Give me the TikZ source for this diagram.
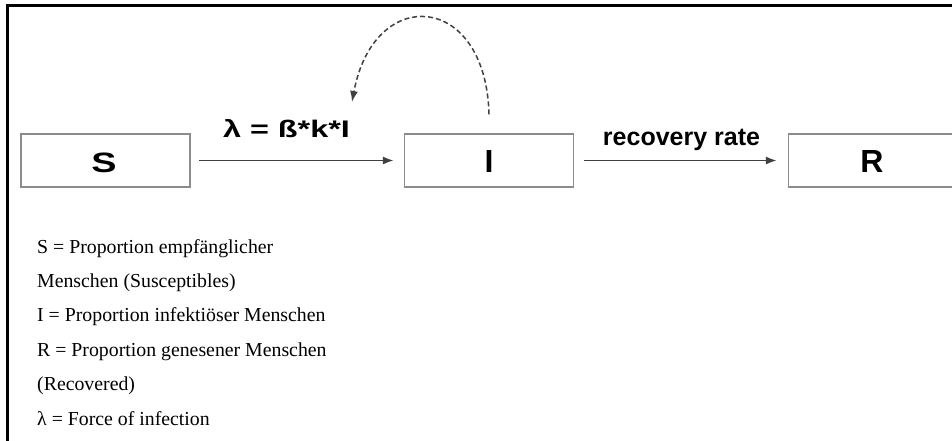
\documentclass[tikz,border=0pt]{standalone}
\usepackage{fontspec}
\setmainfont{Liberation Serif}
\newfontfamily\boxfont{Liberation Sans}
\newfontfamily\widefont[FakeStretch=1.35]{Liberation Sans}
\usetikzlibrary{arrows.meta}

\begin{document}
\begin{tikzpicture}[x=1pt,y=-1pt]
\tikzstyle{compartment}=[draw=black!45,line width=1.2pt,minimum width=169pt,minimum height=53pt,inner sep=0pt]
\tikzstyle{letter}=[anchor=base,inner sep=0pt,font=\boxfont\bfseries\fontsize{32}{32}\selectfont]
\tikzstyle{flow}=[draw,black!75,line width=1.8pt,-{Latex[length=11pt,width=8pt]},shorten <=8pt,shorten >=10pt]
\tikzstyle{legend}=[anchor=base west,inner sep=0pt,font=\fontsize{19.8}{22}\selectfont]
\path[use as bounding box,clip] (0,0) rectangle (952,441);

% frame
\draw[line width=2.5pt] (7.5,441) -- (7.5,5.5) -- (952,5.5);

% compartments
\node at (105.5,160.5) [compartment] (s) {};
\node at (489,160.5) [compartment] (i) {};
\node at (873,160.5) [compartment] (r) {};
\node at (104,172) [letter,font=\widefont\bfseries\fontsize{28}{28}\selectfont] (sl) {S};
\node at (489,172) [letter] (il) {I};
\node at (872,172) [letter] (rl) {R};

% transitions
\path [flow] (s) -- (i);
\path [flow,shorten <=10pt,shorten >=11pt] (i) -- (r);
\node at (286.5,137) [anchor=base,inner sep=0pt,font=\widefont\bfseries\fontsize{24}{24}\selectfont] (lam) {λ = ß*k*I};
\node at (681.5,146) [anchor=base,inner sep=0pt,font=\boxfont\bfseries\fontsize{25}{25}\selectfont] (rate) {recovery rate};

% infection feedback
\coordinate (loopend) at (352,102);
\draw[black!75,line width=1.5pt,dash pattern=on 5pt off 3pt,-{Latex[length=11pt,width=8pt]}] ([yshift=19pt]i.north) .. controls (486,-8) and (374,-16) .. (loopend);

% legend
\node at (37,253) [legend] (l1) {S = Proportion empfänglicher};
\node at (37,287) [legend] (l2) {Menschen (Susceptibles)};
\node at (37,321) [legend] (l3) {I = Proportion infektiöser Menschen};
\node at (37,356) [legend] (l4) {R = Proportion genesener Menschen};
\node at (37,390) [legend] (l5) {(Recovered)};
\node at (37,425) [legend] (l6) {λ = Force of infection};
\end{tikzpicture}
\end{document}
